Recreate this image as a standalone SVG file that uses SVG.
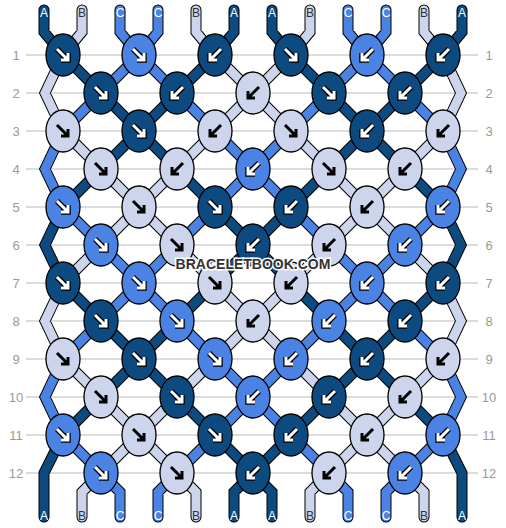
<svg xmlns="http://www.w3.org/2000/svg" xmlns:xlink="http://www.w3.org/1999/xlink" width="506" height="528" viewBox="0 0 506 528">
<style>
.grid line{stroke:#bbb;stroke-width:1}
.rl{font-family:"Liberation Sans",Arial,sans-serif;font-size:13px;fill:#999;text-anchor:middle}
.ol{fill:none;stroke:#000;stroke-width:11;stroke-linecap:round;stroke-linejoin:miter}
.cs{fill:none;stroke-width:9;stroke-linecap:round;stroke-linejoin:miter}
.cD{stroke:#0c4a80}.cM{stroke:#4a83e4}.cL{stroke:#cdd5ec}
.kD{fill:#0c4a80}.kM{fill:#4a83e4}.kL{fill:#cdd5ec}
ellipse{stroke:#000;stroke-width:1.3}
.ao{fill:none;stroke:#000;stroke-width:5.5;stroke-linejoin:miter}
.aw{fill:none;stroke:#fff;stroke-width:3;stroke-linejoin:miter}
.ab{fill:none;stroke:#000;stroke-width:3;stroke-linejoin:miter}
.sl{font-family:"Liberation Sans",Arial,sans-serif;font-size:12px;text-anchor:middle}
.sw{fill:#fff}.sd{fill:#333}
.wm{font-family:"Liberation Sans",Arial,sans-serif;font-weight:bold;font-size:14px;fill:#333;stroke:#fff;stroke-width:3;paint-order:stroke;text-anchor:middle}
</style>
<defs>
<path id="r" d="M-6,-6L5,5M5,-2V5H-2"/>
<path id="l" d="M6,-6L-5,5M-5,-2V5H2"/>
<g id="rw"><use href="#r" class="ao"/><use href="#r" class="aw"/></g>
<g id="lw"><use href="#l" class="ao"/><use href="#l" class="aw"/></g>
<g id="rb"><use href="#r" class="ab"/></g>
<g id="lb"><use href="#l" class="ab"/></g>
<path id="pD" d="M44 10V32L63 55M234 10V32L215 55M272 10V32L291 55M462 10V32L443 55
M63 55L101 93M215 55L177 93M291 55L329 93M443 55L405 93
M101 93L139 131M177 93L139 131M329 93L367 131M405 93L367 131
M139 131L101 169M139 131L177 169M367 131L329 169M367 131L405 169
M101 169L63 207M177 169L215 207M329 169L291 207M405 169L443 207
M215 207L253 245M291 207L253 245M63 207L45 245L63 283M443 207L461 245L443 283
M253 245L215 283M253 245L291 283
M63 283L101 321M215 283L177 321M291 283L329 321M443 283L405 321
M101 321L139 359M177 321L139 359M329 321L367 359M405 321L367 359
M139 359L101 397M139 359L177 397M367 359L329 397M367 359L405 397
M101 397L63 435M177 397L215 435M329 397L291 435M405 397L443 435
M215 435L253 473M291 435L253 473M63 435L44 473V517M443 435L462 473V517
M253 473L234 492V517M253 473L272 492V517"/>
<path id="pM" d="M120 10V32L139 55M158 10V32L139 55M348 10V32L367 55M386 10V32L367 55
M139 55L101 93M139 55L177 93M367 55L329 93M367 55L405 93
M101 93L63 131M177 93L215 131M329 93L291 131M405 93L443 131
M215 131L253 169M291 131L253 169M63 131L45 169L63 207M443 131L461 169L443 207
M253 169L215 207M253 169L291 207
M63 207L101 245M215 207L177 245M291 207L329 245M443 207L405 245
M101 245L139 283M177 245L139 283M329 245L367 283M405 245L367 283
M139 283L101 321M139 283L177 321M367 283L329 321M367 283L405 321
M101 321L63 359M177 321L215 359M329 321L291 359M405 321L443 359
M215 359L253 397M291 359L253 397M63 359L45 397L63 435M443 359L461 397L443 435
M253 397L215 435M253 397L291 435
M63 435L101 473M215 435L177 473M291 435L329 473M443 435L405 473
M101 473L120 492V517M177 473L158 492V517M329 473L348 492V517M405 473L386 492V517"/>
<path id="pL" d="M82 10V32L63 55M196 10V32L215 55M310 10V32L291 55M424 10V32L443 55
M215 55L253 93M291 55L253 93M63 55L45 93L63 131M443 55L461 93L443 131
M253 93L215 131M253 93L291 131
M63 131L101 169M215 131L177 169M291 131L329 169M443 131L405 169
M101 169L139 207M177 169L139 207M329 169L367 207M405 169L367 207
M139 207L101 245M139 207L177 245M367 207L329 245M367 207L405 245
M101 245L63 283M177 245L215 283M329 245L291 283M405 245L443 283
M215 283L253 321M291 283L253 321M63 283L45 321L63 359M443 283L461 321L443 359
M253 321L215 359M253 321L291 359
M63 359L101 397M215 359L177 397M291 359L329 397M443 359L405 397
M101 397L139 435M177 397L139 435M329 397L367 435M405 397L367 435
M139 435L101 473M139 435L177 473M367 435L329 473M367 435L405 473
M101 473L82 492V517M177 473L196 492V517M329 473L310 492V517M405 473L424 492V517"/>
</defs>
<rect width="506" height="528" fill="#fff"/>
<g class="grid">
<line x1="26" y1="55" x2="478" y2="55"/><line x1="26" y1="93" x2="478" y2="93"/><line x1="26" y1="131" x2="478" y2="131"/><line x1="26" y1="169" x2="478" y2="169"/><line x1="26" y1="207" x2="478" y2="207"/><line x1="26" y1="245" x2="478" y2="245"/><line x1="26" y1="283" x2="478" y2="283"/><line x1="26" y1="321" x2="478" y2="321"/><line x1="26" y1="359" x2="478" y2="359"/><line x1="26" y1="397" x2="478" y2="397"/><line x1="26" y1="435" x2="478" y2="435"/><line x1="26" y1="473" x2="478" y2="473"/>
</g>
<g id="row-labels">
<text class="rl" x="16" y="59.5">1</text><text class="rl" x="16" y="97.5">2</text><text class="rl" x="16" y="135.5">3</text><text class="rl" x="16" y="173.5">4</text><text class="rl" x="16" y="211.5">5</text><text class="rl" x="16" y="249.5">6</text><text class="rl" x="16" y="287.5">7</text><text class="rl" x="16" y="325.5">8</text><text class="rl" x="16" y="363.5">9</text><text class="rl" x="16" y="401.5">10</text><text class="rl" x="16" y="439.5">11</text><text class="rl" x="16" y="477.5">12</text>
<text class="rl" x="489" y="59.5">1</text><text class="rl" x="489" y="97.5">2</text><text class="rl" x="489" y="135.5">3</text><text class="rl" x="489" y="173.5">4</text><text class="rl" x="489" y="211.5">5</text><text class="rl" x="489" y="249.5">6</text><text class="rl" x="489" y="287.5">7</text><text class="rl" x="489" y="325.5">8</text><text class="rl" x="489" y="363.5">9</text><text class="rl" x="489" y="401.5">10</text><text class="rl" x="489" y="439.5">11</text><text class="rl" x="489" y="477.5">12</text>
</g>
<g id="connectors">
<use href="#pD" class="ol"/><use href="#pM" class="ol"/><use href="#pL" class="ol"/>
<use href="#pD" class="cs cD"/><use href="#pM" class="cs cM"/><use href="#pL" class="cs cL"/>
</g>
<g id="string-labels">
<text class="sl sw" x="44" y="16.5">A</text><text class="sl sd" x="82" y="16.5">B</text><text class="sl sw" x="120" y="16.5">C</text><text class="sl sw" x="158" y="16.5">C</text><text class="sl sd" x="196" y="16.5">B</text><text class="sl sw" x="234" y="16.5">A</text><text class="sl sw" x="272" y="16.5">A</text><text class="sl sd" x="310" y="16.5">B</text><text class="sl sw" x="348" y="16.5">C</text><text class="sl sw" x="386" y="16.5">C</text><text class="sl sd" x="424" y="16.5">B</text><text class="sl sw" x="462" y="16.5">A</text>
<text class="sl sw" x="44" y="520">A</text><text class="sl sd" x="82" y="520">B</text><text class="sl sw" x="120" y="520">C</text><text class="sl sw" x="158" y="520">C</text><text class="sl sd" x="196" y="520">B</text><text class="sl sw" x="234" y="520">A</text><text class="sl sw" x="272" y="520">A</text><text class="sl sd" x="310" y="520">B</text><text class="sl sw" x="348" y="520">C</text><text class="sl sw" x="386" y="520">C</text><text class="sl sd" x="424" y="520">B</text><text class="sl sw" x="462" y="520">A</text>
</g>
<g id="knots">
<g id="k1-1"><ellipse class="kD" cx="63" cy="55" rx="17" ry="21"/><use href="#rw" x="63" y="55"/></g>
<g id="k1-2"><ellipse class="kM" cx="139" cy="55" rx="17" ry="21"/><use href="#rw" x="139" y="55"/></g>
<g id="k1-3"><ellipse class="kD" cx="215" cy="55" rx="17" ry="21"/><use href="#lw" x="215" y="55"/></g>
<g id="k1-4"><ellipse class="kD" cx="291" cy="55" rx="17" ry="21"/><use href="#rw" x="291" y="55"/></g>
<g id="k1-5"><ellipse class="kM" cx="367" cy="55" rx="17" ry="21"/><use href="#lw" x="367" y="55"/></g>
<g id="k1-6"><ellipse class="kD" cx="443" cy="55" rx="17" ry="21"/><use href="#lw" x="443" y="55"/></g>

<g id="k2-1"><ellipse class="kD" cx="101" cy="93" rx="17" ry="21"/><use href="#rw" x="101" y="93"/></g>
<g id="k2-2"><ellipse class="kD" cx="177" cy="93" rx="17" ry="21"/><use href="#lw" x="177" y="93"/></g>
<g id="k2-3"><ellipse class="kL" cx="253" cy="93" rx="17" ry="21"/><use href="#lb" x="253" y="93"/></g>
<g id="k2-4"><ellipse class="kD" cx="329" cy="93" rx="17" ry="21"/><use href="#rw" x="329" y="93"/></g>
<g id="k2-5"><ellipse class="kD" cx="405" cy="93" rx="17" ry="21"/><use href="#lw" x="405" y="93"/></g>

<g id="k3-1"><ellipse class="kL" cx="63" cy="131" rx="17" ry="21"/><use href="#rb" x="63" y="131"/></g>
<g id="k3-2"><ellipse class="kD" cx="139" cy="131" rx="17" ry="21"/><use href="#rw" x="139" y="131"/></g>
<g id="k3-3"><ellipse class="kL" cx="215" cy="131" rx="17" ry="21"/><use href="#lb" x="215" y="131"/></g>
<g id="k3-4"><ellipse class="kL" cx="291" cy="131" rx="17" ry="21"/><use href="#rb" x="291" y="131"/></g>
<g id="k3-5"><ellipse class="kD" cx="367" cy="131" rx="17" ry="21"/><use href="#lw" x="367" y="131"/></g>
<g id="k3-6"><ellipse class="kL" cx="443" cy="131" rx="17" ry="21"/><use href="#lb" x="443" y="131"/></g>

<g id="k4-1"><ellipse class="kL" cx="101" cy="169" rx="17" ry="21"/><use href="#rb" x="101" y="169"/></g>
<g id="k4-2"><ellipse class="kL" cx="177" cy="169" rx="17" ry="21"/><use href="#lb" x="177" y="169"/></g>
<g id="k4-3"><ellipse class="kM" cx="253" cy="169" rx="17" ry="21"/><use href="#lw" x="253" y="169"/></g>
<g id="k4-4"><ellipse class="kL" cx="329" cy="169" rx="17" ry="21"/><use href="#rb" x="329" y="169"/></g>
<g id="k4-5"><ellipse class="kL" cx="405" cy="169" rx="17" ry="21"/><use href="#lb" x="405" y="169"/></g>

<g id="k5-1"><ellipse class="kM" cx="63" cy="207" rx="17" ry="21"/><use href="#rw" x="63" y="207"/></g>
<g id="k5-2"><ellipse class="kL" cx="139" cy="207" rx="17" ry="21"/><use href="#rb" x="139" y="207"/></g>
<g id="k5-3"><ellipse class="kD" cx="215" cy="207" rx="17" ry="21"/><use href="#rw" x="215" y="207"/></g>
<g id="k5-4"><ellipse class="kD" cx="291" cy="207" rx="17" ry="21"/><use href="#lw" x="291" y="207"/></g>
<g id="k5-5"><ellipse class="kL" cx="367" cy="207" rx="17" ry="21"/><use href="#lb" x="367" y="207"/></g>
<g id="k5-6"><ellipse class="kM" cx="443" cy="207" rx="17" ry="21"/><use href="#lw" x="443" y="207"/></g>

<g id="k6-1"><ellipse class="kM" cx="101" cy="245" rx="17" ry="21"/><use href="#rw" x="101" y="245"/></g>
<g id="k6-2"><ellipse class="kL" cx="177" cy="245" rx="17" ry="21"/><use href="#rb" x="177" y="245"/></g>
<g id="k6-3"><ellipse class="kD" cx="253" cy="245" rx="17" ry="21"/><use href="#lw" x="253" y="245"/></g>
<g id="k6-4"><ellipse class="kL" cx="329" cy="245" rx="17" ry="21"/><use href="#lb" x="329" y="245"/></g>
<g id="k6-5"><ellipse class="kM" cx="405" cy="245" rx="17" ry="21"/><use href="#lw" x="405" y="245"/></g>

<g id="k7-1"><ellipse class="kD" cx="63" cy="283" rx="17" ry="21"/><use href="#rw" x="63" y="283"/></g>
<g id="k7-2"><ellipse class="kM" cx="139" cy="283" rx="17" ry="21"/><use href="#rw" x="139" y="283"/></g>
<g id="k7-3"><ellipse class="kL" cx="215" cy="283" rx="17" ry="21"/><use href="#rb" x="215" y="283"/></g>
<g id="k7-4"><ellipse class="kL" cx="291" cy="283" rx="17" ry="21"/><use href="#lb" x="291" y="283"/></g>
<g id="k7-5"><ellipse class="kM" cx="367" cy="283" rx="17" ry="21"/><use href="#lw" x="367" y="283"/></g>
<g id="k7-6"><ellipse class="kD" cx="443" cy="283" rx="17" ry="21"/><use href="#lw" x="443" y="283"/></g>

<g id="k8-1"><ellipse class="kD" cx="101" cy="321" rx="17" ry="21"/><use href="#rw" x="101" y="321"/></g>
<g id="k8-2"><ellipse class="kM" cx="177" cy="321" rx="17" ry="21"/><use href="#rw" x="177" y="321"/></g>
<g id="k8-3"><ellipse class="kL" cx="253" cy="321" rx="17" ry="21"/><use href="#lb" x="253" y="321"/></g>
<g id="k8-4"><ellipse class="kM" cx="329" cy="321" rx="17" ry="21"/><use href="#lw" x="329" y="321"/></g>
<g id="k8-5"><ellipse class="kD" cx="405" cy="321" rx="17" ry="21"/><use href="#lw" x="405" y="321"/></g>

<g id="k9-1"><ellipse class="kL" cx="63" cy="359" rx="17" ry="21"/><use href="#rb" x="63" y="359"/></g>
<g id="k9-2"><ellipse class="kD" cx="139" cy="359" rx="17" ry="21"/><use href="#rw" x="139" y="359"/></g>
<g id="k9-3"><ellipse class="kM" cx="215" cy="359" rx="17" ry="21"/><use href="#rw" x="215" y="359"/></g>
<g id="k9-4"><ellipse class="kM" cx="291" cy="359" rx="17" ry="21"/><use href="#lw" x="291" y="359"/></g>
<g id="k9-5"><ellipse class="kD" cx="367" cy="359" rx="17" ry="21"/><use href="#lw" x="367" y="359"/></g>
<g id="k9-6"><ellipse class="kL" cx="443" cy="359" rx="17" ry="21"/><use href="#lb" x="443" y="359"/></g>

<g id="k10-1"><ellipse class="kL" cx="101" cy="397" rx="17" ry="21"/><use href="#rb" x="101" y="397"/></g>
<g id="k10-2"><ellipse class="kD" cx="177" cy="397" rx="17" ry="21"/><use href="#rw" x="177" y="397"/></g>
<g id="k10-3"><ellipse class="kM" cx="253" cy="397" rx="17" ry="21"/><use href="#lw" x="253" y="397"/></g>
<g id="k10-4"><ellipse class="kD" cx="329" cy="397" rx="17" ry="21"/><use href="#lw" x="329" y="397"/></g>
<g id="k10-5"><ellipse class="kL" cx="405" cy="397" rx="17" ry="21"/><use href="#lb" x="405" y="397"/></g>

<g id="k11-1"><ellipse class="kM" cx="63" cy="435" rx="17" ry="21"/><use href="#rw" x="63" y="435"/></g>
<g id="k11-2"><ellipse class="kL" cx="139" cy="435" rx="17" ry="21"/><use href="#rb" x="139" y="435"/></g>
<g id="k11-3"><ellipse class="kD" cx="215" cy="435" rx="17" ry="21"/><use href="#rw" x="215" y="435"/></g>
<g id="k11-4"><ellipse class="kD" cx="291" cy="435" rx="17" ry="21"/><use href="#lw" x="291" y="435"/></g>
<g id="k11-5"><ellipse class="kL" cx="367" cy="435" rx="17" ry="21"/><use href="#lb" x="367" y="435"/></g>
<g id="k11-6"><ellipse class="kM" cx="443" cy="435" rx="17" ry="21"/><use href="#lw" x="443" y="435"/></g>

<g id="k12-1"><ellipse class="kM" cx="101" cy="473" rx="17" ry="21"/><use href="#rw" x="101" y="473"/></g>
<g id="k12-2"><ellipse class="kL" cx="177" cy="473" rx="17" ry="21"/><use href="#rb" x="177" y="473"/></g>
<g id="k12-3"><ellipse class="kD" cx="253" cy="473" rx="17" ry="21"/><use href="#lw" x="253" y="473"/></g>
<g id="k12-4"><ellipse class="kL" cx="329" cy="473" rx="17" ry="21"/><use href="#lb" x="329" y="473"/></g>
<g id="k12-5"><ellipse class="kM" cx="405" cy="473" rx="17" ry="21"/><use href="#lw" x="405" y="473"/></g>
</g>
<text id="watermark" class="wm" x="253" y="269">BRACELETBOOK.COM</text>
</svg>
